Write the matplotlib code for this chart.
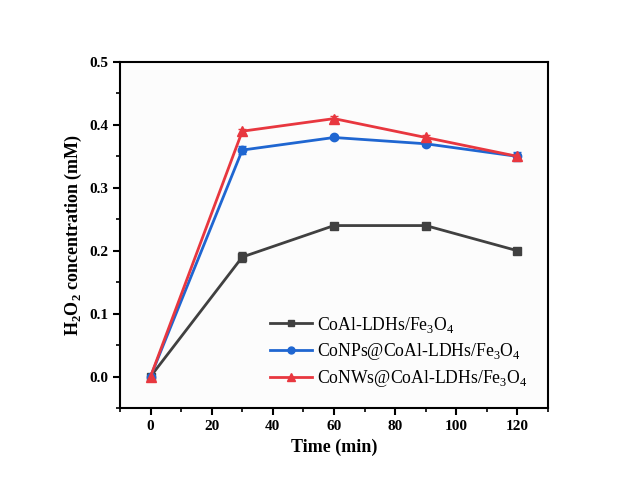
import matplotlib
matplotlib.use("Agg")
import matplotlib.pyplot as plt
from matplotlib.ticker import MultipleLocator
from matplotlib.lines import Line2D

plt.rcParams['font.family'] = ['Liberation Serif', 'DejaVu Serif']
plt.rcParams['mathtext.fontset'] = 'custom'
plt.rcParams['mathtext.rm'] = 'Liberation Serif'
plt.rcParams['mathtext.bf'] = 'Liberation Serif:bold'

time = [0, 30, 60, 90, 120]
coal = [0.0, 0.19, 0.24, 0.24, 0.20]
conps = [0.0, 0.36, 0.38, 0.37, 0.35]
conws = [0.0, 0.39, 0.41, 0.38, 0.35]
coal_err = [0.003, 0.008, 0.004, 0.004, 0.003]
conps_err = [0.003, 0.007, 0.003, 0.004, 0.007]
conws_err = [0.003, 0.004, 0.004, 0.004, 0.004]
labels = ['CoAl-LDHs/Fe$_3$O$_4$', 'CoNPs@CoAl-LDHs/Fe$_3$O$_4$', 'CoNWs@CoAl-LDHs/Fe$_3$O$_4$']
colors = ['#404040', '#1f66d1', '#e8373f']
markers = ['s', 'o', '^']

fig = plt.figure(figsize=(6.23, 4.8), dpi=100)
ax = fig.add_axes([120/623, 1-408/480, 428/623, 346/480])

handles = []
for y, e, c, m, lab in zip([coal, conps, conws], [coal_err, conps_err, conws_err], colors, markers, labels):
    ms = 7 if m == '^' else 6
    ax.errorbar(time, y, yerr=e, color=c, marker=m, ms=ms, lw=2, capsize=3)
    handles.append(Line2D([], [], color=c, marker=m, ms=ms - 1, lw=2, label=lab))

ax.set_xlim(-10, 130)
ax.set_ylim(-0.05, 0.5)
ax.xaxis.set_major_locator(MultipleLocator(20))
ax.xaxis.set_minor_locator(MultipleLocator(10))
ax.yaxis.set_major_locator(MultipleLocator(0.1))
ax.yaxis.set_minor_locator(MultipleLocator(0.05))
ax.yaxis.set_major_formatter(matplotlib.ticker.FormatStrFormatter('%.1f'))
for s in ax.spines.values():
    s.set_linewidth(1.5)
ax.tick_params(which='major', direction='out', length=5, width=1.5, labelsize=11)
ax.tick_params(which='minor', direction='out', length=3, width=1.2)
for t in ax.get_xticklabels() + ax.get_yticklabels():
    t.set_fontweight('bold')

ax.set_xlabel('Time (min)', fontsize=13, fontweight='bold')
ax.set_ylabel('H$_\\mathbf{2}$O$_\\mathbf{2}$ concentration (mM)', fontsize=13, fontweight='bold')

ax.legend(handles=handles, loc='lower left', bbox_to_anchor=(0.35, 0.055), frameon=False, fontsize=12.7,
          handlelength=2.4, handletextpad=0.3, labelspacing=0.35, borderpad=0, borderaxespad=0)
ax.set_facecolor('#fcfcfc')
fig.savefig('out.png', dpi=100)
